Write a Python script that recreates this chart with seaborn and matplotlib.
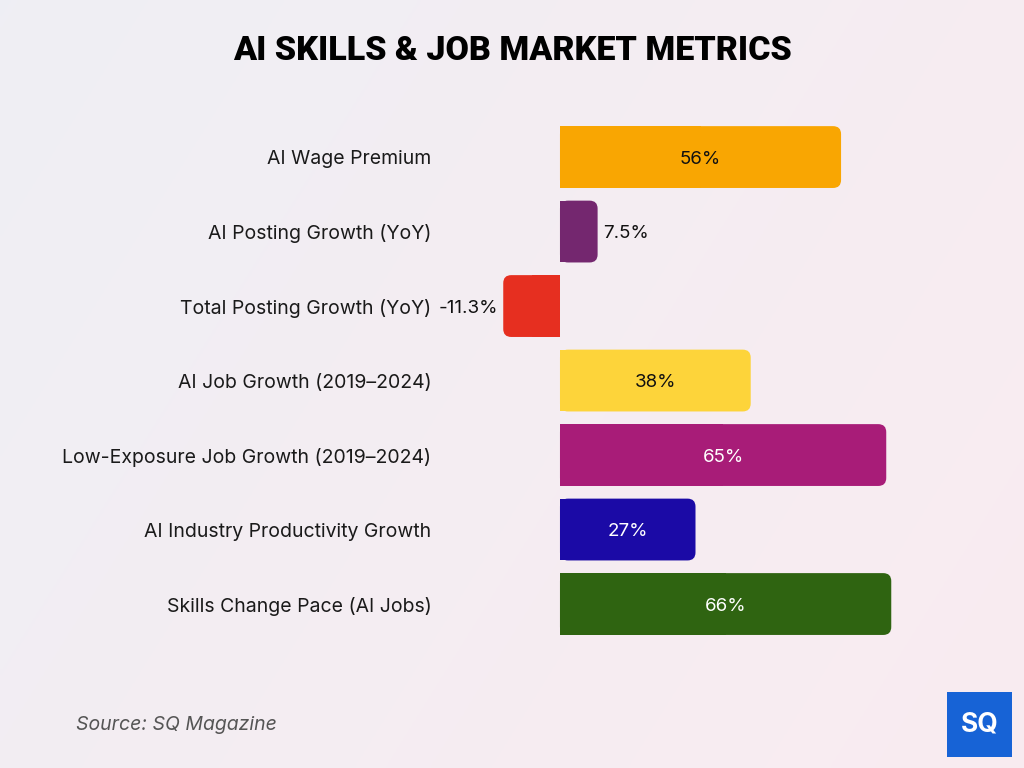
import numpy as np
import pandas as pd
import matplotlib
matplotlib.use("Agg")
import matplotlib.pyplot as plt
import seaborn as sns
from matplotlib.patches import FancyBboxPatch, Rectangle

categories = ["AI Wage Premium", "AI Posting Growth (YoY)", "Total Posting Growth (YoY)",
              "AI Job Growth (2019–2024)", "Low-Exposure Job Growth (2019–2024)",
              "AI Industry Productivity Growth", "Skills Change Pace (AI Jobs)"]
values = [56, 7.5, -11.3, 38, 65, 27, 66]
labels = ["56%", "7.5%", "-11.3%", "38%", "65%", "27%", "66%"]
colors = ["#F9A602", "#74276F", "#E62F20", "#FDD43A", "#A81C78", "#1B0AA6", "#2F6411"]
text_colors = ["#111111", "#111111", "#111111", "#111111", "#FFFFFF", "#FFFFFF", "#FFFFFF"]

sns.set_theme(style="white")
plt.rcParams['font.family'] = ['Inter', 'DejaVu Sans']

fig = plt.figure(figsize=(10.24, 7.68), dpi=100)

# background gradient
bg = fig.add_axes([0, 0, 1, 1], zorder=-10)
xx = np.linspace(0, 1, 256)
yy = np.linspace(0, 1, 256)
X, Y = np.meshgrid(xx, yy)
c1 = np.array([0.937, 0.937, 0.957])
c2 = np.array([0.976, 0.925, 0.945])
t = np.clip(0.75 * X + 0.35 * Y, 0, 1)[..., None]
img = c1 * (1 - t) + c2 * t
bg.imshow(img, extent=[0, 1, 0, 1], aspect='auto', origin='upper')
bg.axis('off')

ax = fig.add_axes([0.439, 0.165, 0.5, 0.679])
ax.patch.set_alpha(0)
df = pd.DataFrame({"category": categories, "value": values})
sns.barplot(data=df, y="category", x="value", hue="category", palette=colors,
            saturation=1, legend=False, ax=ax, width=0.83, orient="h")

ax.set_xlim(-22, 80)
ax.set_ylim(6.5, -0.5)

r = 1.6
aspect = 0.067
bars = list(ax.patches)
for p in bars:
    x0, y0 = p.get_x(), p.get_y()
    w, h = p.get_width(), p.get_height()
    fc = p.get_facecolor()
    p.remove()
    left = min(x0, x0 + w)
    width = abs(w)
    fb = FancyBboxPatch((left, y0), width, h,
                        boxstyle=f"round,pad=0,rounding_size={r}",
                        mutation_aspect=aspect, fc=fc, ec='none', lw=0, zorder=2)
    ax.add_patch(fb)
    # square the corners on the zero side
    ax.add_patch(Rectangle((0, y0), (x0 + w) / 2, h,
                           fc=fc, ec='none', lw=0, zorder=2))

for i, (v, lab, tc) in enumerate(zip(values, labels, text_colors)):
    if v > 15:
        ax.text(v / 2, i, lab, ha='center', va='center_baseline', color=tc, fontsize=13.5)
    elif v >= 0:
        ax.text(v + 1.0, i, lab, ha='left', va='center_baseline', color='#111111', fontsize=13.5)
    else:
        ax.text(v - 1.0, i, lab, ha='right', va='center_baseline', color='#111111', fontsize=13.5)

ax.set_xlabel("")
ax.set_ylabel("")
ax.set_xticks([])
ax.tick_params(axis='y', length=0, pad=13, labelsize=14, labelcolor='#1a1a1a')
for s in ax.spines.values():
    s.set_visible(False)

fig.text(0.5, 0.933, "AI SKILLS & JOB MARKET METRICS", ha='center', va='center',
         fontsize=24.5, fontweight='black', color='#000000',
         family=['Roboto', 'DejaVu Sans'])
fig.text(0.074, 0.056, "Source: SQ Magazine", ha='left', va='center',
         fontsize=14, style='italic', color='#555555')

# logo
lx, ly, lw, lh = 947 / 1024, (768 - 757) / 768, 65 / 1024, 65 / 768
fig.patches.append(Rectangle((lx, ly), lw, lh, transform=fig.transFigure,
                             fc='#1763D6', ec='none', zorder=5))
fig.text(lx + lw / 2, ly + lh / 2, "SQ", ha='center', va='center', color='white',
         fontsize=19, fontweight='bold', zorder=6)

fig.savefig("out.png", dpi=100)
